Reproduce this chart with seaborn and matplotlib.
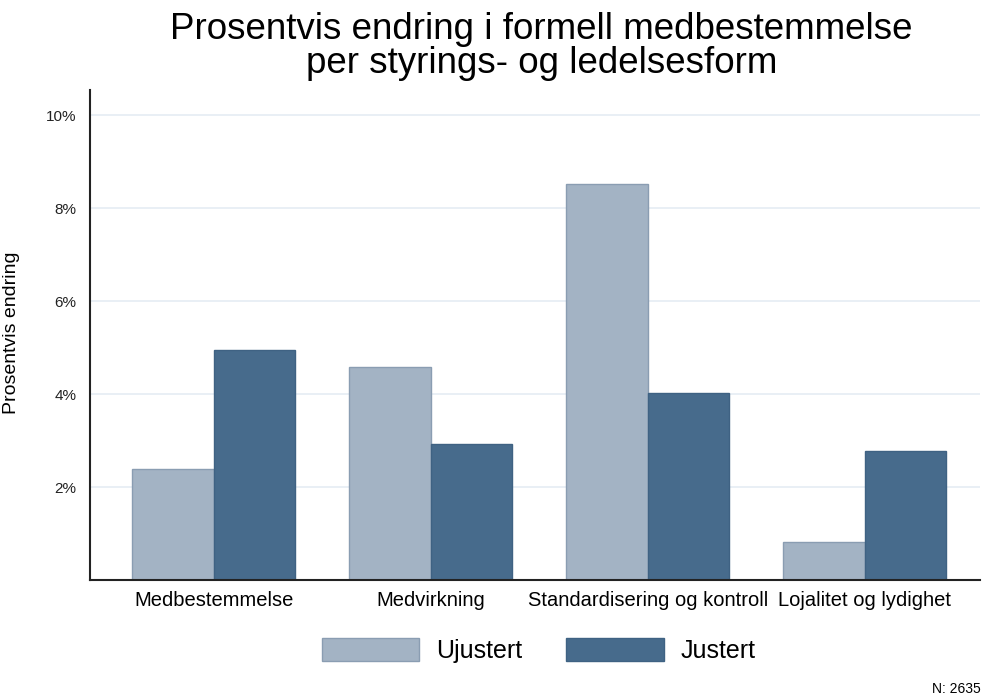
import pandas as pd
import numpy as np
import seaborn as sns
import matplotlib.pyplot as plt
from matplotlib.patches import Patch

sns.set_style('white')
plt.rcParams['font.family'] = ['Liberation Sans', 'DejaVu Sans']
plt.rcParams['text.color'] = 'black'

# data (percent)
kategorier = ['Medbestemmelse', 'Medvirkning', 'Standardisering og kontroll', 'Lojalitet og lydighet']
ujustert = [2.39, 4.58, 8.52, 0.82]
justert = [4.95, 2.92, 4.02, 2.77]
serier = ['Ujustert', 'Justert']
farger = ['#a3b3c4', '#476b8c']
kanter = ['#8a9db2', '#3f6283']
yticks = [2, 4, 6, 8, 10]

df = pd.DataFrame({
    'kategori': kategorier * 2,
    'verdi': ujustert + justert,
    'type': [serier[0]] * len(kategorier) + [serier[1]] * len(kategorier),
})

fig = plt.figure(figsize=(9.83, 6.99), dpi=100)
ax = fig.add_axes([0.0916, 0.170, 0.905, 0.701])

sns.barplot(data=df, x='kategori', y='verdi', hue='type', hue_order=serier,
            palette=farger, width=0.75, ax=ax, legend=False, saturation=1)

# per-series edge colours
for i, cont in enumerate(ax.containers):
    for p in cont:
        p.set_edgecolor(kanter[i])
        p.set_linewidth(1)

ax.set_ylim(0, 10.54)
ax.set_xlim(-0.57, 3.53)
ax.set_yticks(yticks)
ax.set_yticklabels([f'{t}%' for t in yticks], fontsize=11, color='#222222')
ax.tick_params(axis='y', direction='out', length=6, width=1.2, color='#333333', pad=4)
ax.tick_params(axis='x', length=0, labelsize=14.5, pad=8, labelcolor='black')
ax.set_xlabel('')
ax.set_ylabel('Prosentvis endring', fontsize=14, color='black')
ax.yaxis.set_label_coords(-0.079, 0.504)

ax.grid(axis='y', color='#e7eef4', linewidth=1.3)
ax.set_axisbelow(True)
sns.despine(ax=ax)
for s in ['left', 'bottom']:
    ax.spines[s].set_color('#222222')
    ax.spines[s].set_linewidth(1.5)

fig.text(0.551, 0.983, 'Prosentvis endring i formell medbestemmelse\nper styrings- og ledelsesform',
         ha='center', va='top', fontsize=26.5, linespacing=0.98)

handles = [Patch(facecolor=farger[i], edgecolor=kanter[i], label=serier[i]) for i in range(2)]
fig.legend(handles=handles, loc='center', bbox_to_anchor=(0.548, 0.069), ncol=2,
           frameon=False, fontsize=18, handlelength=3.9, handleheight=1.05,
           handletextpad=0.68, columnspacing=1.76)

fig.text(0.998, 0.004, 'N: 2635', ha='right', va='bottom', fontsize=10)

fig.savefig('out.png', dpi=100)
